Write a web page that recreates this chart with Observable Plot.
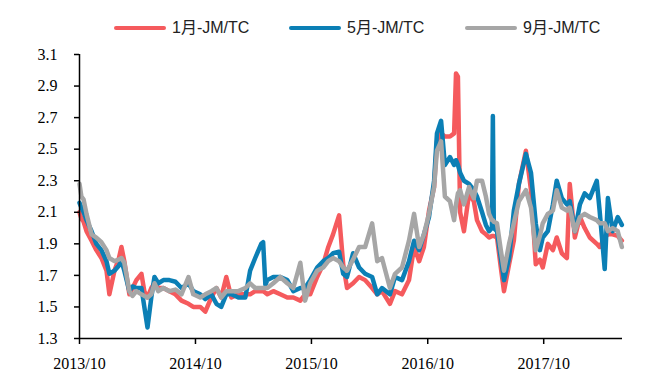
<!DOCTYPE html>
<html><head><meta charset="utf-8">
<script src="https://cdn.jsdelivr.net/npm/d3@7"></script>
<script src="https://cdn.jsdelivr.net/npm/@observablehq/plot@0.6"></script>
<style>
body{margin:0;background:#fff;}
#wrap{position:relative;width:655px;height:385px;}
#legend{position:relative;height:40px;width:655px;}
.item{position:absolute;top:19px;display:flex;align-items:center;font-family:"Liberation Sans","Noto Sans CJK SC",sans-serif;font-size:16px;color:#222;line-height:18px;white-space:nowrap;}
.sw{width:52px;height:4px;border-radius:2px;margin-right:6px;}
</style></head>
<body>
<div id="wrap"><div id="legend"></div><div id="chart"></div></div>
<script>
const dates = ["2013-10-01","2013-10-07","2013-10-14","2013-10-23","2013-11-08","2013-11-23","2013-12-09","2013-12-25",
"2014-01-03","2014-01-19","2014-02-01","2014-02-10","2014-02-19","2014-03-07","2014-03-17","2014-03-29","2014-04-14","2014-04-23",
"2014-05-03","2014-05-15","2014-05-25","2014-06-06","2014-06-22","2014-07-11","2014-07-30","2014-08-18","2014-09-09","2014-09-24",
"2014-10-16","2014-11-01","2014-11-20","2014-12-06","2014-12-21","2015-01-06","2015-01-22","2015-02-13","2015-03-07","2015-03-22",
"2015-04-07","2015-04-26","2015-05-02","2015-05-09","2015-05-15","2015-06-03","2015-06-25","2015-07-17","2015-08-05","2015-08-27",
"2015-09-11","2015-09-27","2015-10-19","2015-11-07","2015-11-23","2015-12-08","2015-12-27","2016-01-09","2016-01-21","2016-02-09",
"2016-02-28","2016-03-18","2016-04-09","2016-04-25","2016-05-10","2016-06-04","2016-06-20","2016-07-12","2016-08-03","2016-08-19",
"2016-09-04","2016-09-19","2016-10-05","2016-10-21","2016-10-30","2016-11-12","2016-11-24","2016-12-10","2016-12-23","2016-12-29",
"2017-01-04","2017-01-11","2017-01-23","2017-02-08","2017-02-23","2017-03-05","2017-03-21","2017-04-02","2017-04-12","2017-04-21",
"2017-04-24","2017-04-27","2017-05-07","2017-05-19","2017-05-29","2017-06-14","2017-06-29","2017-07-15","2017-08-06","2017-08-22",
"2017-09-06","2017-09-19","2017-09-28","2017-10-14","2017-10-30","2017-11-11","2017-11-27","2017-12-13","2017-12-22","2018-01-07",
"2018-01-23","2018-02-07","2018-02-23","2018-03-17","2018-03-26","2018-04-11","2018-04-21","2018-05-06","2018-05-22","2018-06-04"];

const jan = [2.10,2.06,2.04,1.98,1.92,1.86,1.81,1.73,
1.58,1.73,1.80,1.88,1.79,1.58,1.62,1.67,1.71,1.60,
1.56,1.62,1.65,1.62,1.62,1.60,1.58,1.54,1.52,1.50,
1.50,1.47,1.56,1.62,1.56,1.69,1.56,1.58,1.58,1.58,
1.60,1.60,1.60,1.59,1.58,1.60,1.58,1.56,1.56,1.54,
1.58,1.58,1.69,1.77,1.88,1.96,2.08,1.77,1.62,1.65,
1.69,1.67,1.62,1.58,1.60,1.52,1.60,1.58,1.67,1.88,
1.79,1.88,2.11,2.26,2.55,2.60,2.58,2.58,2.60,2.98,
2.96,2.10,1.98,2.22,2.17,2.05,1.98,1.96,1.94,1.95,
1.95,1.95,1.94,1.75,1.60,1.77,1.92,2.28,2.49,2.24,
1.77,1.80,1.75,1.90,1.86,1.94,1.84,1.81,2.28,1.94,
2.07,2.00,1.94,1.90,1.88,1.94,1.96,1.96,1.95,1.92];

const may = [2.16,2.13,2.10,2.05,1.98,1.90,1.86,1.79,
1.71,1.73,1.76,1.79,1.73,1.60,1.63,1.62,1.62,1.50,
1.37,1.56,1.69,1.65,1.67,1.67,1.66,1.62,1.65,1.60,
1.58,1.55,1.58,1.52,1.50,1.58,1.58,1.56,1.56,1.73,
1.81,1.90,1.91,1.64,1.67,1.69,1.69,1.67,1.60,1.62,
1.62,1.67,1.75,1.79,1.81,1.84,1.85,1.71,1.69,1.84,
1.75,1.71,1.69,1.58,1.62,1.58,1.69,1.67,1.79,1.92,
1.86,1.96,2.07,2.30,2.60,2.68,2.40,2.45,2.40,2.43,
2.40,2.35,2.30,2.28,2.24,2.20,2.10,2.02,1.98,2.00,
2.71,2.00,1.98,1.81,1.67,1.81,2.11,2.28,2.47,2.35,
2.03,1.86,1.94,1.98,2.15,2.30,2.19,2.15,2.17,1.98,
2.15,2.22,2.19,2.30,2.11,1.74,2.19,1.98,2.07,2.02];

const sep = [2.28,2.20,2.18,2.09,1.96,1.94,1.91,1.86,
1.81,1.79,1.80,1.81,1.78,1.60,1.57,1.60,1.58,1.57,
1.56,1.58,1.65,1.60,1.62,1.60,1.61,1.58,1.69,1.58,
1.56,1.58,1.60,1.62,1.56,1.60,1.60,1.60,1.62,1.65,
1.62,1.62,1.62,1.62,1.62,1.65,1.69,1.65,1.62,1.78,
1.54,1.65,1.73,1.75,1.79,1.81,1.79,1.75,1.73,1.80,
1.88,1.88,2.03,1.79,1.81,1.62,1.71,1.75,1.92,2.09,
1.88,1.96,2.09,2.26,2.49,2.55,2.20,2.17,2.05,2.15,
2.22,2.24,2.15,2.26,2.19,2.30,2.30,2.20,2.09,2.05,
2.05,2.04,2.03,1.86,1.73,1.90,2.03,2.17,2.24,2.13,
1.86,1.95,2.03,2.09,2.11,2.24,2.13,2.11,2.13,1.98,
2.07,2.09,2.07,2.05,2.03,2.03,1.98,2.00,1.98,1.88];

const seriesNames = ["1月-JM/TC", "5月-JM/TC", "9月-JM/TC"];
const seriesColors = ["#F55A5D", "#0B7FB5", "#A6A6A6"];
const yTicks = [1.3, 1.5, 1.7, 1.9, 2.1, 2.3, 2.5, 2.7, 2.9, 3.1];
const xTicks = ["2013-10-01", "2014-10-01", "2015-10-01", "2016-10-01", "2017-10-01"];
const xStart = "2013-10-01", xEnd = "2018-06-06";

const parse = d3.utcParse("%Y-%m-%d");
const valueSets = [jan, may, sep];
const rows = [];
valueSets.forEach((vals, si) => {
  vals.forEach((v, i) => rows.push({date: parse(dates[i]), value: v, series: seriesNames[si]}));
});

// legend
const legendX = [114, 289, 465];
const legend = document.getElementById("legend");
seriesNames.forEach((n, i) => {
  const it = document.createElement("div");
  it.className = "item";
  it.style.left = legendX[i] + "px";
  it.innerHTML = `<span class="sw" style="background:${seriesColors[i]}"></span><span>${n}</span>`;
  legend.appendChild(it);
});

const chart = Plot.plot({
  width: 655,
  height: 345,
  marginTop: 14,
  marginBottom: 47,
  marginLeft: 79,
  marginRight: 33,
  style: {fontFamily: "'Liberation Serif', 'Times New Roman', serif", fontSize: "16px", color: "#000", background: "#fff"},
  x: {type: "utc", domain: [parse(xStart), parse(xEnd)]},
  y: {domain: [1.3, 3.1]},
  color: {domain: seriesNames, range: seriesColors},
  marks: [
    Plot.line(rows, {x: "date", y: "value", z: "series", stroke: "series", strokeWidth: 4.5, strokeLinejoin: "round", strokeLinecap: "round", curve: "linear"}),
    Plot.ruleX([parse(xStart)], {stroke: "#000", strokeWidth: 1.5}),
    Plot.ruleY([1.3], {stroke: "#000", strokeWidth: 1.5}),
    Plot.axisY({ticks: yTicks, tickFormat: d3.format(".1f"), tickSize: 5, tickPadding: 17, fontSize: 16, stroke: "#000", strokeWidth: 1.5, label: null}),
    Plot.axisX({ticks: xTicks.map(parse), tickFormat: d3.utcFormat("%Y/%m"), tickSize: 6, tickPadding: 13, fontSize: 16, stroke: "#000", strokeWidth: 1.5, label: null})
  ]
});
document.getElementById("chart").appendChild(chart);
</script>
</body></html>
